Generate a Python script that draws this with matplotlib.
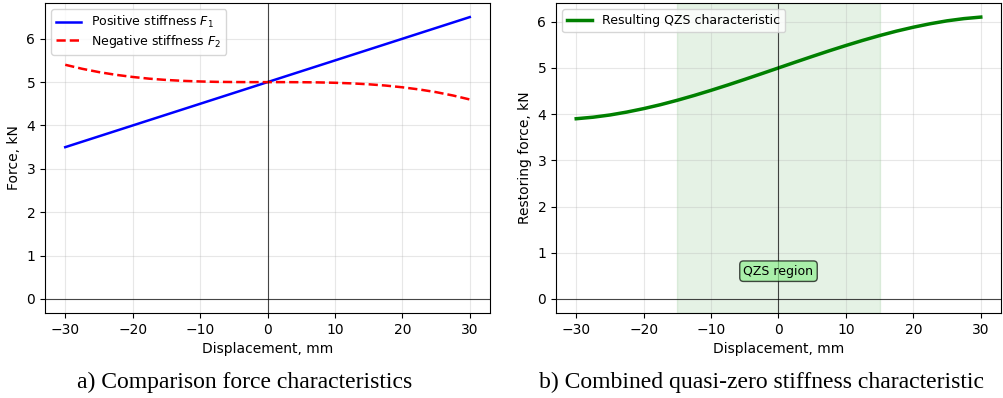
import matplotlib
matplotlib.use("Agg")
import matplotlib.pyplot as plt

# displacement grid, mm
displacement = [-30, -27.5, -25, -22.5, -20, -17.5, -15, -12.5, -10, -7.5, -5, -2.5,
                0, 2.5, 5, 7.5, 10, 12.5, 15, 17.5, 20, 22.5, 25, 27.5, 30]

# positive stiffness F1, kN
f1 = [3.5, 3.625, 3.75, 3.875, 4.0, 4.125, 4.25, 4.375, 4.5, 4.625, 4.75, 4.875,
      5.0, 5.125, 5.25, 5.375, 5.5, 5.625, 5.75, 5.875, 6.0, 6.125, 6.25, 6.375, 6.5]

# negative stiffness F2, kN
f2 = [5.40, 5.308, 5.231, 5.169, 5.119, 5.079, 5.05, 5.029, 5.015, 5.006, 5.002, 5.0,
      5.0, 5.0, 4.998, 4.994, 4.985, 4.971, 4.95, 4.921, 4.881, 4.831, 4.769, 4.692, 4.60]

# resulting QZS restoring force, kN
f_qzs = [3.90, 3.933, 3.981, 4.044, 4.119, 4.204, 4.30, 4.404, 4.515, 4.631, 4.752, 4.875,
         5.0, 5.125, 5.248, 5.369, 5.485, 5.596, 5.70, 5.796, 5.881, 5.956, 6.019, 6.067, 6.10]

qzs_lo, qzs_hi = -15, 15

W, H = 1004, 398
fig = plt.figure(figsize=(W / 100, H / 100), dpi=100)


def axes_px(x0, y0, x1, y1):
    return fig.add_axes([x0 / W, 1 - y1 / H, (x1 - x0) / W, (y1 - y0) / H])


ax1 = axes_px(45, 3, 490, 313)
ax2 = axes_px(556, 3, 1001, 313)

# ─── a) comparison ───
ax1.plot(displacement, f1, color="blue", lw=1.8, label="Positive stiffness $F_1$")
ax1.plot(displacement, f2, color="red", lw=1.8, ls="--", label="Negative stiffness $F_2$")
ax1.axhline(0, color="black", lw=0.8, alpha=0.7)
ax1.axvline(0, color="black", lw=0.8, alpha=0.7)
ax1.set_xlabel("Displacement, mm")
ax1.set_ylabel("Force, kN")
ax1.grid(True, alpha=0.3)
ax1.legend(loc="upper left", fontsize=9, labelspacing=0.2)

# ─── b) combined QZS ───
ax2.plot(displacement, f_qzs, color="green", lw=2.5, label="Resulting QZS characteristic")
ax2.axvspan(qzs_lo, qzs_hi, color="green", alpha=0.1)
ax2.axhline(0, color="black", lw=0.8, alpha=0.7)
ax2.axvline(0, color="black", lw=0.8, alpha=0.7)
ax2.text(0, 0.6, "QZS region", ha="center", va="center", fontsize=9,
         bbox=dict(boxstyle="round", fc="lightgreen", alpha=0.7))
ax2.set_xlabel("Displacement, mm")
ax2.set_ylabel("Restoring force, kN")
ax2.grid(True, alpha=0.3)
ax2.legend(loc="upper left", fontsize=9)

for ax in (ax1, ax2):
    ax.set_xticks([-30, -20, -10, 0, 10, 20, 30])

cap = dict(ha="center", va="center", fontsize=17, family="Liberation Serif")
fig.text(245 / W, 1 - 382 / H, "a) Comparison force characteristics", **cap)
fig.text(762 / W, 1 - 382 / H, "b) Combined quasi-zero stiffness characteristic", **cap)

fig.savefig("out.png", dpi=100)
